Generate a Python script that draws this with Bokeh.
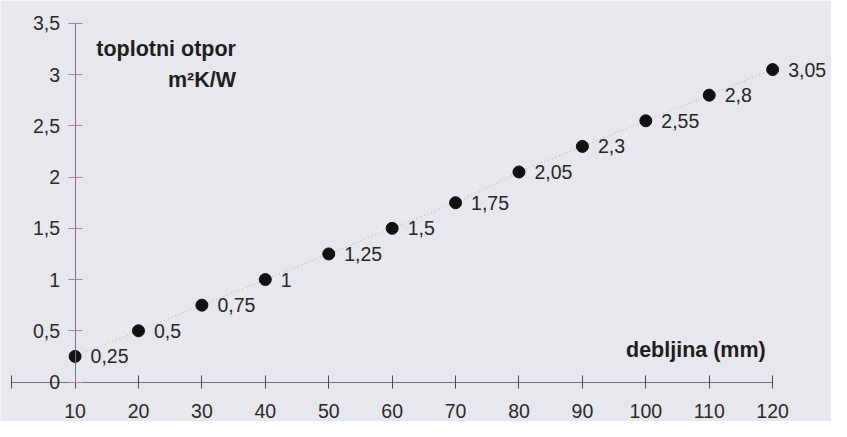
from bokeh.plotting import figure
from bokeh.models import Range1d, ColumnDataSource, FixedTicker, Label
from bokeh.embed import file_html
from bokeh.resources import INLINE
from bokeh.core.properties import value

# data
debljina = [10, 20, 30, 40, 50, 60, 70, 80, 90, 100, 110, 120]
otpor = [0.25, 0.5, 0.75, 1.0, 1.25, 1.5, 1.75, 2.05, 2.3, 2.55, 2.8, 3.05]
x_ticks = [0, 10, 20, 30, 40, 50, 60, 70, 80, 90, 100, 110, 120]
y_ticks = [0, 0.5, 1, 1.5, 2, 2.5, 3, 3.5]

def fmt(v):
    return f"{v:g}".replace(".", ",")

labels = [fmt(v) for v in otpor]

BG = "#e7e8ed"
FONT = "Liberation Sans"
W, H = 831, 421
SX, SY = W / 847, H / 437

# frame mapping: x=10 -> 76*SX px, x=120 -> 787*SX px; y=0 -> 396*SY, y=3 -> 77*SY
kx = 110 / ((787 - 76) * SX)          # data units per px
x0 = 10 - 76 * SX * kx
x1 = x0 + W * kx
ky = 3 / ((396 - 77) * SY)
y1 = 396 * SY * ky
y0 = y1 - H * ky

p = figure(width=W, height=H, output_backend="svg", toolbar_location=None,
           x_range=Range1d(x0, x1), y_range=Range1d(y0, y1),
           min_border=0, min_border_left=0, min_border_right=0,
           min_border_top=0, min_border_bottom=0)
p.background_fill_color = BG
p.border_fill_color = BG
p.outline_line_color = None
p.grid.visible = False

# reference-pixel -> data helpers for annotation placement
def dx(px):
    return x0 + px * SX * kx

def dy(py):
    return y1 - py * SY * ky

src = ColumnDataSource(dict(x=debljina, y=otpor, t=labels))
p.line("x", "y", source=src, line_color="#b4b5bd", line_dash="1 3", line_width=1)
p.scatter("x", "y", source=src, size=12, fill_color="#111111", line_color="#111111")
p.text("x", "y", text="t", source=src, x_offset=15.5, text_baseline="middle",
       text_align="left", text_font=value(FONT), text_font_size="19.5px",
       text_color="#262626")

# x axis
xa = p.xaxis[0]
xa.fixed_location = 0
xa.bounds = (0, 120)
xa.ticker = FixedTicker(ticks=x_ticks)
xa.minor_tick_line_color = None
xa.major_tick_in = 7
xa.major_tick_out = 6
xa.axis_line_color = "#707486"
xa.major_tick_line_color = "#4a4a55"
xa.major_label_overrides = {0: ""}
xa.major_label_standoff = 16
xa.major_label_text_font = FONT
xa.major_label_text_font_size = "19.5px"
xa.major_label_text_color = "#2a2a2a"

# y axis
ya = p.yaxis[0]
ya.fixed_location = 10
ya.bounds = (0, 3.5)
ya.ticker = FixedTicker(ticks=y_ticks)
ya.minor_tick_line_color = None
ya.major_tick_in = 7
ya.major_tick_out = 7
ya.axis_line_color = "#707486"
ya.major_tick_line_color = "#b8808e"
ya.major_label_overrides = {t: fmt(t) for t in y_ticks}
ya.major_label_standoff = 8
ya.major_label_text_font = FONT
ya.major_label_text_font_size = "19.5px"
ya.major_label_text_color = "#2a2a2a"

# titles
for txt, px, py in [("toplotni otpor", 240, 50), ("m\u00b2K/W", 240, 83),
                    ("debljina (mm)", 780, 363)]:
    p.add_layout(Label(x=dx(px), y=dy(py), text=txt, text_align="right",
                       text_baseline="alphabetic", text_font=FONT,
                       text_font_size="21.5px", text_font_style="bold",
                       text_color="#1e1e1e"))

open("out.html", "w").write(file_html(p, INLINE))
